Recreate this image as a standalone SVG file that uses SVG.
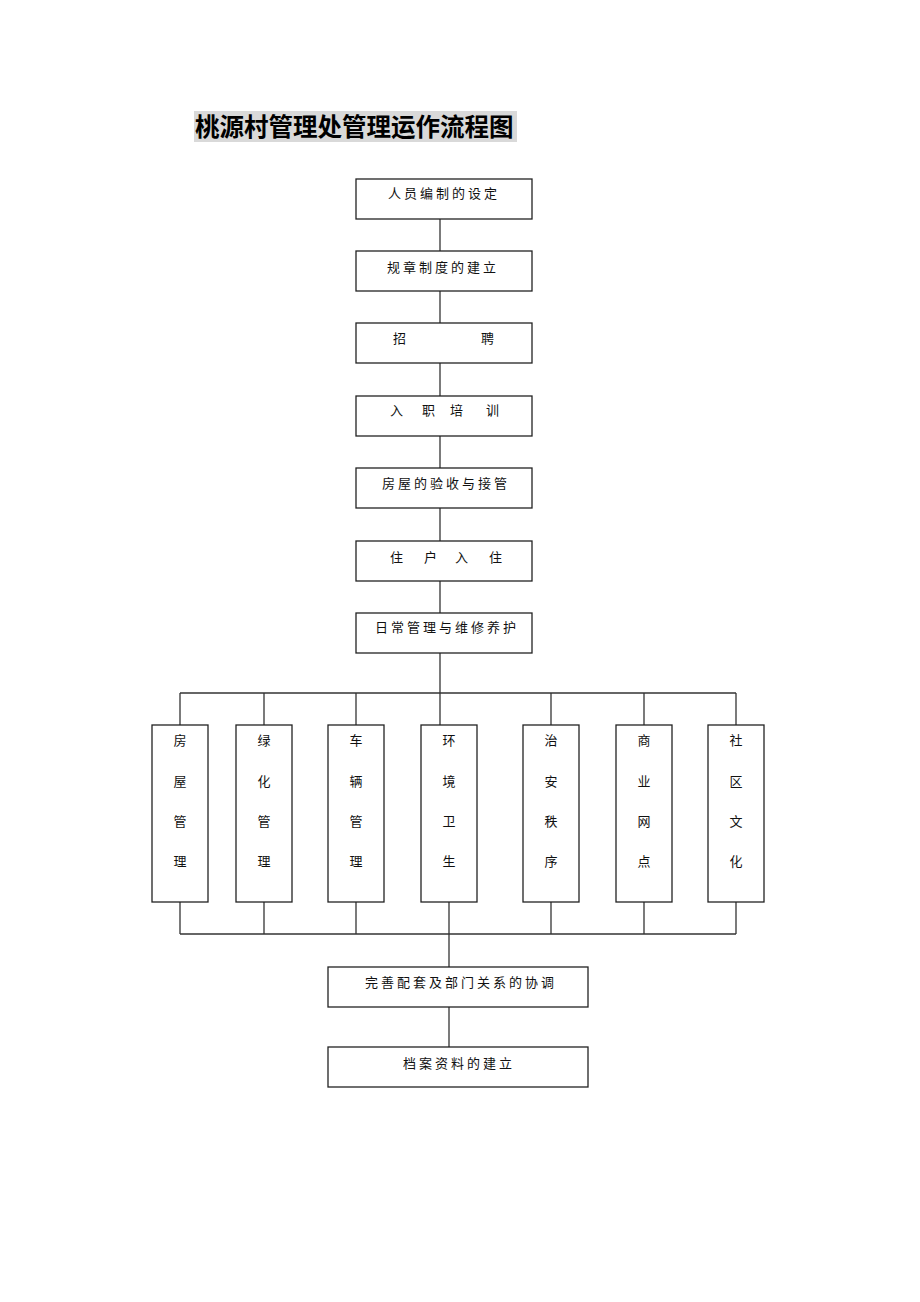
<svg xmlns="http://www.w3.org/2000/svg" width="920" height="1302" viewBox="0 0 920 1302">
<style>
.box{fill:#fff;stroke:#222;stroke-width:1.3}
.ln{fill:none;stroke:#333;stroke-width:1.3}
.t{font-family:"Noto Sans CJK SC","Noto Sans CJK JP",sans-serif;font-size:13px;fill:#111}
.v{font-family:"Noto Sans CJK SC","Noto Sans CJK JP",sans-serif;font-size:13px;fill:#111;text-anchor:middle}
.title{font-family:"Noto Sans CJK SC",sans-serif;font-size:24.5px;font-weight:bold;fill:#000}
</style>
<rect width="920" height="1302" fill="#fff"/>
<g id="title">
<rect x="194" y="111" width="323" height="31" fill="#d9d9d9"/>
<text class="title" x="195" y="136">桃源村管理处管理运作流程图</text>
</g>
<g id="connectors">
<line class="ln" x1="440" y1="219" x2="440" y2="251"/>
<line class="ln" x1="440" y1="291" x2="440" y2="323"/>
<line class="ln" x1="440" y1="363" x2="440" y2="396"/>
<line class="ln" x1="440" y1="436" x2="440" y2="468"/>
<line class="ln" x1="440" y1="508" x2="440" y2="541"/>
<line class="ln" x1="440" y1="581" x2="440" y2="613"/>
<line class="ln" x1="440" y1="653" x2="440" y2="725"/>
<line class="ln" x1="180" y1="693" x2="736" y2="693"/>
<line class="ln" x1="180" y1="693" x2="180" y2="725"/>
<line class="ln" x1="264" y1="693" x2="264" y2="725"/>
<line class="ln" x1="356" y1="693" x2="356" y2="725"/>
<line class="ln" x1="551" y1="693" x2="551" y2="725"/>
<line class="ln" x1="644" y1="693" x2="644" y2="725"/>
<line class="ln" x1="736" y1="693" x2="736" y2="725"/>
<line class="ln" x1="180" y1="934" x2="736" y2="934"/>
<line class="ln" x1="180" y1="902" x2="180" y2="934"/>
<line class="ln" x1="264" y1="902" x2="264" y2="934"/>
<line class="ln" x1="356" y1="902" x2="356" y2="934"/>
<line class="ln" x1="449" y1="902" x2="449" y2="967"/>
<line class="ln" x1="551" y1="902" x2="551" y2="934"/>
<line class="ln" x1="644" y1="902" x2="644" y2="934"/>
<line class="ln" x1="736" y1="902" x2="736" y2="934"/>
<line class="ln" x1="449" y1="1007" x2="449" y2="1047"/>
</g>
<g id="n1"><rect class="box" x="356" y="179" width="176" height="40"/><text class="t" x="388 404 420 436 452 468 484" y="198">人员编制的设定</text></g>
<g id="n2"><rect class="box" x="356" y="251" width="176" height="40"/><text class="t" x="387 403 419 435 451 467 483" y="272">规章制度的建立</text></g>
<g id="n3"><rect class="box" x="356" y="323" width="176" height="40"/><text class="t" x="393 481" y="343">招聘</text></g>
<g id="n4"><rect class="box" x="356" y="396" width="176" height="40"/><text class="t" x="390 422 450 486" y="415">入职培训</text></g>
<g id="n5"><rect class="box" x="356" y="468" width="176" height="40"/><text class="t" x="382 398 414 430 446 462 478 494" y="488">房屋的验收与接管</text></g>
<g id="n6"><rect class="box" x="356" y="541" width="176" height="40"/><text class="t" x="390 424 455 489" y="562">住户入住</text></g>
<g id="n7"><rect class="box" x="356" y="613" width="176" height="40"/><text class="t" x="375 391 407 423 439 455 471 487 503" y="632">日常管理与维修养护</text></g>
<g id="b1"><rect class="box" x="152" y="725" width="56" height="177"/><text class="v" x="180" y="745">房</text><text class="v" x="180" y="786">屋</text><text class="v" x="180" y="826">管</text><text class="v" x="180" y="866">理</text></g>
<g id="b2"><rect class="box" x="236" y="725" width="56" height="177"/><text class="v" x="264" y="745">绿</text><text class="v" x="264" y="786">化</text><text class="v" x="264" y="826">管</text><text class="v" x="264" y="866">理</text></g>
<g id="b3"><rect class="box" x="328" y="725" width="56" height="177"/><text class="v" x="356" y="745">车</text><text class="v" x="356" y="786">辆</text><text class="v" x="356" y="826">管</text><text class="v" x="356" y="866">理</text></g>
<g id="b4"><rect class="box" x="421" y="725" width="56" height="177"/><text class="v" x="449" y="745">环</text><text class="v" x="449" y="786">境</text><text class="v" x="449" y="826">卫</text><text class="v" x="449" y="866">生</text></g>
<g id="b5"><rect class="box" x="523" y="725" width="56" height="177"/><text class="v" x="551" y="745">治</text><text class="v" x="551" y="786">安</text><text class="v" x="551" y="826">秩</text><text class="v" x="551" y="866">序</text></g>
<g id="b6"><rect class="box" x="616" y="725" width="56" height="177"/><text class="v" x="644" y="745">商</text><text class="v" x="644" y="786">业</text><text class="v" x="644" y="826">网</text><text class="v" x="644" y="866">点</text></g>
<g id="b7"><rect class="box" x="708" y="725" width="56" height="177"/><text class="v" x="736" y="745">社</text><text class="v" x="736" y="786">区</text><text class="v" x="736" y="826">文</text><text class="v" x="736" y="866">化</text></g>
<g id="n8"><rect class="box" x="328" y="967" width="260" height="40"/><text class="t" x="365 381 397 413 429 445 461 477 493 509 525 541" y="987">完善配套及部门关系的协调</text></g>
<g id="n9"><rect class="box" x="328" y="1047" width="260" height="40"/><text class="t" x="403 419 435 451 467 483 499" y="1068">档案资料的建立</text></g>
</svg>
